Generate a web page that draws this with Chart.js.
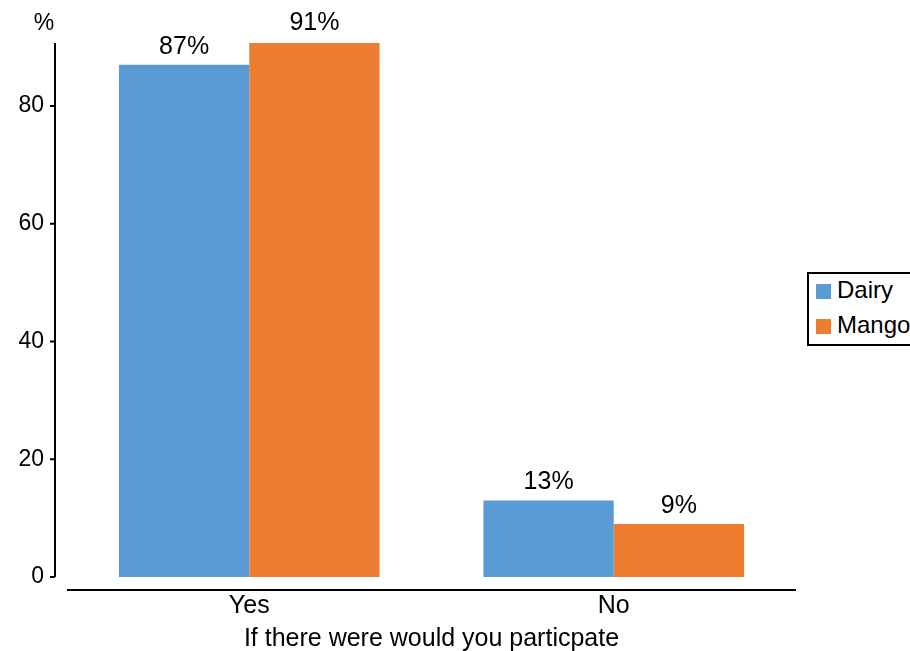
<!DOCTYPE html>
<html>
<head>
<meta charset="utf-8">
<script src="https://cdn.jsdelivr.net/npm/chart.js@4"></script>
<style>
    body { margin: 0; overflow: hidden; background: #fff; font-family: "Liberation Sans", Arial, sans-serif; }
    #wrap { position: relative; width: 910px; height: 651px; }
    #legend {
        position: absolute; left: 807px; top: 272px; width: 120px; height: 70px;
        border: 2px solid #000; background: #fff; font-size: 24px; color: #000;
    }
    .leg-item { position: absolute; left: 7px; display: flex; align-items: center; }
    .leg-box { width: 15px; height: 15px; margin-right: 6px; margin-top: 3px; }
</style>
</head>
<body>
<div id="wrap">
    <canvas id="chart" width="910" height="651"></canvas>
    <div id="legend"></div>
</div>
<script>
// ========== DATA ==========
const categories = ['Yes', 'No'];
const dairyValues = [87, 13];
const mangoValues = [91, 9];
const yTicks = [0, 20, 40, 60, 80];
const seriesNames = ['Dairy', 'Mango'];
const seriesColors = ['#5B9BD5', '#ED7D31'];

const FONT = '"Liberation Sans", Arial, sans-serif';

// axis lines, value labels and the "%" header
const decorPlugin = {
    id: 'decor',
    afterDraw(chart) {
        const ctx = chart.ctx;
        const area = chart.chartArea;
        const y = chart.scales.y;
        const axisX = area.left - 12;

        ctx.save();
        ctx.strokeStyle = '#000';
        ctx.lineWidth = 2;
        ctx.beginPath();
        ctx.moveTo(axisX, y.getPixelForValue(y.max));
        ctx.lineTo(axisX, y.getPixelForValue(0));
        yTicks.forEach(t => {
            const py = y.getPixelForValue(t);
            ctx.moveTo(axisX - 5, py);
            ctx.lineTo(axisX, py);
        });
        ctx.moveTo(area.left, area.bottom + 13);
        ctx.lineTo(area.right, area.bottom + 13);
        ctx.stroke();

        ctx.fillStyle = '#000';
        ctx.font = '23px ' + FONT;
        ctx.textAlign = 'center';
        ctx.textBaseline = 'alphabetic';
        ctx.fillText('%', 44, 30);

        ctx.font = '25px ' + FONT;
        chart.data.datasets.forEach((ds, i) => {
            chart.getDatasetMeta(i).data.forEach((bar, j) => {
                ctx.fillText(ds.data[j] + '%', bar.x, bar.y - 11);
            });
        });
        ctx.restore();
    }
};

const ctx = document.getElementById('chart').getContext('2d');
new Chart(ctx, {
    type: 'bar',
    data: {
        labels: categories,
        datasets: [
            { label: seriesNames[0], data: dairyValues, backgroundColor: seriesColors[0] },
            { label: seriesNames[1], data: mangoValues, backgroundColor: seriesColors[1] }
        ]
    },
    options: {
        responsive: false,
        animation: false,
        layout: { padding: { top: 43, right: 114, left: 0, bottom: 0 } },
        datasets: { bar: { categoryPercentage: 0.715, barPercentage: 1 } },
        plugins: {
            legend: { display: false },
            tooltip: { enabled: false }
        },
        scales: {
            x: {
                afterFit: scale => { scale.height = 74; },
                grid: { display: false },
                border: { display: false },
                ticks: { color: '#000', font: { family: FONT, size: 25 }, padding: 6 },
                title: {
                    display: true,
                    text: 'If there were would you particpate',
                    color: '#000',
                    font: { family: FONT, size: 25 },
                    padding: { top: 0, bottom: -3 }
                }
            },
            y: {
                min: 0,
                max: 90.7,
                afterFit: scale => { scale.width = 67; },
                afterBuildTicks: scale => { scale.ticks = yTicks.map(v => ({ value: v })); },
                grid: { display: false },
                border: { display: false },
                ticks: { color: '#000', font: { family: FONT, size: 23 }, padding: 15 }
            }
        }
    },
    plugins: [decorPlugin]
});

document.getElementById('legend').innerHTML = seriesNames.map((name, i) => `
    <div class="leg-item" style="top:${i === 0 ? 2 : 37}px">
        <div class="leg-box" style="background:${seriesColors[i]}"></div>${name}
    </div>
`).join('');
</script>
</body>
</html>
